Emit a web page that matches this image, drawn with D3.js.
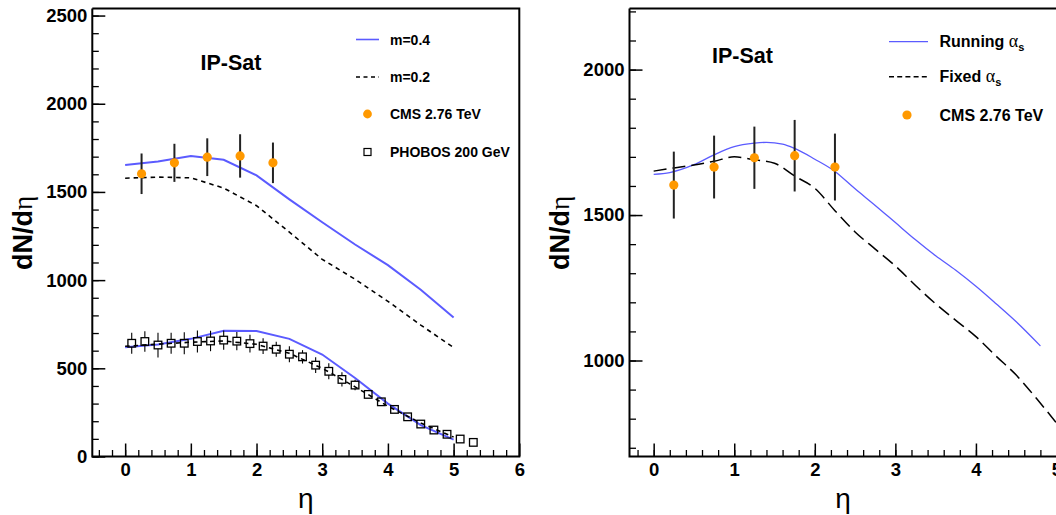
<!DOCTYPE html>
<html><head><meta charset="utf-8">
<script src="https://cdn.jsdelivr.net/npm/d3@7"></script>
<style>
body{margin:0;background:#fff}
svg{display:block}
text{font-family:"Liberation Sans",Arial,Helvetica,sans-serif}
</style>
</head><body>
<svg id="c" width="1056" height="515"></svg>
<script>
// ---------- data ----------
const etaModel = [0,0.5,1,1.5,2,2.5,3,3.5,4,4.5,5];
const lhcM04  = [1653,1672,1703,1682,1594,1458,1328,1202,1085,945,788];
const lhcM02  = [1578,1584,1580,1522,1422,1272,1118,1005,880,745,618];
const rhicM04 = [620,635,667,713,711,667,578,445,300,178,96];
const rhicM02 = [625,637,648,655,636,585,500,395,285,190,110];

const cmsEta = [0.25,0.75,1.25,1.75,2.25];
const cmsVal = [1603,1665,1697,1704,1665];
const cmsErr = [115,108,107,123,115];

const phobosEta = [0.1,0.3,0.5,0.7,0.9,1.1,1.3,1.5,1.7,1.9,2.1,2.3,2.5,2.7,2.9,3.1,3.3,3.5,3.7,3.9,4.1,4.3,4.5,4.7,4.9,5.1,5.3];
const phobosVal = [642,652,632,642,642,652,655,660,654,640,626,608,580,565,518,483,437,405,352,310,267,225,184,150,126,99,80];
const phobosErr = [60,58,70,60,62,62,58,55,52,50,45,42,45,38,45,45,40,30,20,20,18,15,12,10,8,0,0];

const runEta = [0,0.2,0.5,0.75,1,1.25,1.4,1.6,1.75,2,2.25,2.5,2.75,3,3.25,3.5,3.75,4,4.25,4.5,4.8];
const runVal = [1640,1646,1673,1707,1735,1747,1750,1744,1729,1692,1650,1590,1533,1474,1415,1360,1310,1255,1195,1133,1050];
const fixEta = [0,0.25,0.5,0.75,1,1.25,1.5,1.75,2,2.25,2.5,2.75,3,3.25,3.5,3.75,4,4.25,4.5,4.75,5];
const fixVal = [1651,1662,1672,1685,1700,1690,1678,1634,1592,1515,1442,1383,1325,1258,1195,1138,1082,1015,950,870,785];

const leftYMajor = [0,500,1000,1500,2000,2500];
const rightYMajor = [1000,1500,2000];
const leftXMajor = [0,1,2,3,4,5,6];
const rightXMajor = [0,1,2,3,4,5];

// ---------- style ----------
const BLUE = "#5b5bff";
const ORANGE = "#ff9900";

const svg = d3.select("#c");

function zip(xs, ys){ return xs.map((x,i)=>[x, ys[i]]); }
function range(a,b,s){ const r=[]; for(let v=a; v<=b+1e-9; v+=s) r.push(+v.toFixed(4)); return r; }

function drawAxes(g, x, y, xMajor, xMinor, yMajor, yMinor, frameRight, frameTop){
  const [x0] = x.range(); const [y0] = y.range();
  g.append("g").attr("transform",`translate(${x0},0)`)
    .call(d3.axisLeft(y).tickValues(yMinor).tickSize(-6.5).tickFormat(""))
    .call(a=>a.select(".domain").remove())
    .call(a=>a.selectAll("line").attr("stroke","#000").attr("stroke-width",1.3));
  g.append("g").attr("transform",`translate(0,${y0})`)
    .call(d3.axisBottom(x).tickValues(xMinor).tickSize(-6.5).tickFormat(""))
    .call(a=>a.select(".domain").remove())
    .call(a=>a.selectAll("line").attr("stroke","#000").attr("stroke-width",1.3));
  g.append("g").attr("transform",`translate(${x0},0)`)
    .call(d3.axisLeft(y).tickValues(yMajor).tickSize(-13).tickSizeOuter(0).tickPadding(5).tickFormat(d3.format("d")))
    .call(a=>a.select(".domain").remove())
    .call(a=>a.selectAll("line").attr("stroke","#000").attr("stroke-width",1.5))
    .call(a=>a.selectAll("text").attr("font-size",18.5).attr("font-weight","bold").attr("fill","#000")
         .attr("font-family","Liberation Sans, Arial, sans-serif"));
  g.append("g").attr("transform",`translate(0,${y0})`)
    .call(d3.axisBottom(x).tickValues(xMajor).tickSize(-13).tickSizeOuter(0).tickPadding(6).tickFormat(d3.format("d")))
    .call(a=>a.select(".domain").remove())
    .call(a=>a.selectAll("line").attr("stroke","#000").attr("stroke-width",1.5))
    .call(a=>a.selectAll("text").attr("font-size",18.5).attr("font-weight","bold").attr("fill","#000")
         .attr("font-family","Liberation Sans, Arial, sans-serif"));
  const yt = frameTop, xr = frameRight;
  g.append("path").attr("d",`M${x0},${yt}V${y0}H${xr}V${yt}H${x0}`)
    .attr("fill","none").attr("stroke","#000").attr("stroke-width",2);
}

// ================= LEFT PANEL =================
{
  const x = d3.scaleLinear().domain([-0.5,6]).range([92.3,519.3]);
  const y = d3.scaleLinear().domain([0,2540]).range([456.5,8.5]);
  const g = svg.append("g");
  const line = d3.line().x(d=>x(d[0])).y(d=>y(d[1]));

  g.append("path").datum(zip(etaModel,lhcM04)).attr("d",line).attr("fill","none").attr("stroke",BLUE).attr("stroke-width",2);
  g.append("path").datum(zip(etaModel,lhcM02)).attr("d",line).attr("fill","none").attr("stroke","#000").attr("stroke-width",1.6).attr("stroke-dasharray","4.5,4");
  g.append("path").datum(zip(etaModel,rhicM04)).attr("d",line).attr("fill","none").attr("stroke",BLUE).attr("stroke-width",2);
  g.append("path").datum(zip(etaModel,rhicM02)).attr("d",line).attr("fill","none").attr("stroke","#000").attr("stroke-width",1.6).attr("stroke-dasharray","4.5,4");

  const half = 3.8;
  const ph = g.append("g");
  phobosEta.forEach((e,i)=>{
    const cx = x(e), cy = y(phobosVal[i]);
    const top = y(phobosVal[i]+phobosErr[i]), bot = y(phobosVal[i]-phobosErr[i]);
    if (top < cy-half) ph.append("line").attr("x1",cx).attr("x2",cx).attr("y1",top).attr("y2",cy-half).attr("stroke","#000").attr("stroke-width",1.1);
    if (bot > cy+half) ph.append("line").attr("x1",cx).attr("x2",cx).attr("y1",cy+half).attr("y2",bot).attr("stroke","#000").attr("stroke-width",1.1);
    ph.append("rect").attr("x",cx-half).attr("y",cy-half).attr("width",2*half).attr("height",2*half)
      .attr("fill","none").attr("stroke","#000").attr("stroke-width",1.3);
  });

  const cm = g.append("g");
  cmsEta.forEach((e,i)=>{
    cm.append("line").attr("x1",x(e)).attr("x2",x(e)).attr("y1",y(cmsVal[i]+cmsErr[i])).attr("y2",y(cmsVal[i]-cmsErr[i]))
      .attr("stroke","#222").attr("stroke-width",2);
  });
  cmsEta.forEach((e,i)=>{
    cm.append("circle").attr("cx",x(e)).attr("cy",y(cmsVal[i])).attr("r",4.6).attr("fill",ORANGE);
  });

  drawAxes(g, x, y, leftXMajor, range(-0.4,5.8,0.2), leftYMajor, range(0,2500,100), 519.3, 8.5);

  g.append("text").attr("transform","translate(32,233) rotate(-90)").attr("text-anchor","middle")
    .attr("font-size",27).attr("font-weight","bold")
    .call(t=>{ t.append("tspan").text("dN/d"); t.append("tspan").attr("font-family","Liberation Serif, serif").attr("font-weight","normal").text("η"); });
  g.append("text").attr("x",305.8).attr("y",508).attr("text-anchor","middle")
    .attr("font-size",28).attr("font-family","Liberation Serif, serif").text("η");
  g.append("text").attr("x",231).attr("y",70).attr("text-anchor","middle")
    .attr("font-size",21.5).attr("font-weight","bold").text("IP-Sat");

  const lg = g.append("g").attr("font-size",14).attr("font-weight","bold");
  const ly = [39.5,77,114,152];
  lg.append("line").attr("x1",356).attr("x2",379).attr("y1",ly[0]).attr("y2",ly[0]).attr("stroke",BLUE).attr("stroke-width",1.6);
  lg.append("line").attr("x1",356).attr("x2",379).attr("y1",ly[1]).attr("y2",ly[1]).attr("stroke","#000").attr("stroke-width",1.6).attr("stroke-dasharray","4,3.5");
  lg.append("circle").attr("cx",367.5).attr("cy",ly[2]).attr("r",4.4).attr("fill",ORANGE);
  lg.append("rect").attr("x",367.5-3.5).attr("y",ly[3]-3.5).attr("width",7).attr("height",7).attr("fill","none").attr("stroke","#000").attr("stroke-width",1.2);
  ["m=0.4","m=0.2","CMS 2.76 TeV","PHOBOS 200 GeV"].forEach((s,i)=>{
    lg.append("text").attr("x",390).attr("y",ly[i]+5).text(s);
  });
}

// ================= RIGHT PANEL =================
{
  const x = d3.scaleLinear().domain([-0.3,5.0]).range([629.5,1056.5]);
  const y = d3.scaleLinear().domain([670,2210]).range([456.5,8.5]);
  const g = svg.append("g");
  const line = d3.line().x(d=>x(d[0])).y(d=>y(d[1])).curve(d3.curveMonotoneX);

  g.append("path").datum(zip(runEta,runVal)).attr("d",line).attr("fill","none").attr("stroke",BLUE).attr("stroke-width",1.3);
  g.append("path").datum(zip(fixEta,fixVal)).attr("d",line).attr("fill","none").attr("stroke","#000").attr("stroke-width",1.5).attr("stroke-dasharray","13,6");

  const cm = g.append("g");
  cmsEta.forEach((e,i)=>{
    cm.append("line").attr("x1",x(e)).attr("x2",x(e)).attr("y1",y(cmsVal[i]+cmsErr[i])).attr("y2",y(cmsVal[i]-cmsErr[i]))
      .attr("stroke","#222").attr("stroke-width",2);
  });
  cmsEta.forEach((e,i)=>{
    cm.append("circle").attr("cx",x(e)).attr("cy",y(cmsVal[i])).attr("r",4.6).attr("fill",ORANGE);
  });

  drawAxes(g, x, y, rightXMajor, range(-0.2,4.8,0.2), rightYMajor, range(700,2200,100), 1058, 8.5);

  g.append("text").attr("transform","translate(569,233) rotate(-90)").attr("text-anchor","middle")
    .attr("font-size",27).attr("font-weight","bold")
    .call(t=>{ t.append("tspan").text("dN/d"); t.append("tspan").attr("font-family","Liberation Serif, serif").attr("font-weight","normal").text("η"); });
  g.append("text").attr("x",843).attr("y",508).attr("text-anchor","middle")
    .attr("font-size",28).attr("font-family","Liberation Serif, serif").text("η");
  g.append("text").attr("x",742.5).attr("y",62.5).attr("text-anchor","middle")
    .attr("font-size",21.5).attr("font-weight","bold").text("IP-Sat");

  const lg = g.append("g").attr("font-size",16).attr("font-weight","bold");
  const ly = [41.7,76.7,115];
  lg.append("line").attr("x1",889).attr("x2",928).attr("y1",ly[0]).attr("y2",ly[0]).attr("stroke",BLUE).attr("stroke-width",1.3);
  lg.append("line").attr("x1",889).attr("x2",928).attr("y1",ly[1]).attr("y2",ly[1]).attr("stroke","#000").attr("stroke-width",1.5).attr("stroke-dasharray","5,3.2");
  lg.append("circle").attr("cx",907).attr("cy",ly[2]).attr("r",4.6).attr("fill",ORANGE);
  const labels = [["Running ",true],["Fixed ",true],["CMS 2.76 TeV",false]];
  labels.forEach(([s,alpha],i)=>{
    const t = lg.append("text").attr("x",939.5).attr("y",ly[i]+5.5);
    t.append("tspan").text(s);
    if (alpha){
      t.append("tspan").attr("font-family","Liberation Serif, serif").attr("font-weight","normal").attr("font-size",18).text("α");
      t.append("tspan").attr("font-size",11).attr("dy",4).text("s");
    }
  });
}
</script>
</body></html>
